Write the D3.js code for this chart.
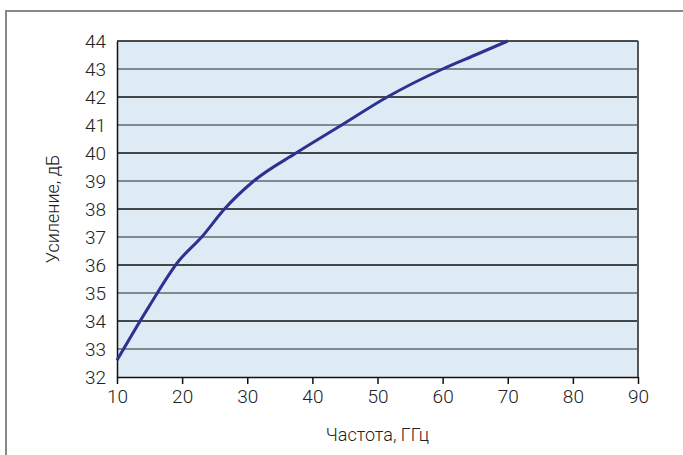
<!DOCTYPE html>
<html>
<head>
<meta charset="utf-8">
<script src="https://cdn.jsdelivr.net/npm/d3@7"></script>
<style>
  body { margin: 0; background: #fff; }
  text { font-family: Roboto, "DejaVu Sans", sans-serif; font-weight: 300; fill: #222; }
</style>
</head>
<body>
<div id="chart"></div>
<script>
// frequency, GHz
var freq = [10, 15, 19.5, 23, 26.5, 31, 37.5, 44.5, 51.5, 60, 65, 70];
// gain, dB
var gain = [32.6, 34.55, 36.15, 37.0, 38.0, 39.0, 40.0, 41.0, 42.0, 43.0, 43.5, 44.0];
var xTicks = [10, 20, 30, 40, 50, 60, 70, 80, 90];
var yTicks = [32, 33, 34, 35, 36, 37, 38, 39, 40, 41, 42, 43, 44];

var W = 683, H = 455;
var margin = {top: 41, right: 45, bottom: 78, left: 117},
    width = W - margin.left - margin.right,
    height = H - margin.top - margin.bottom;

var svg = d3.select("#chart").append("svg")
    .attr("width", W)
    .attr("height", H);

// outer frame (only top and left are visible)
svg.append("rect")
    .attr("x", 6).attr("y", 11)
    .attr("width", W + 10).attr("height", H + 10)
    .style("fill", "none")
    .style("stroke", "#888")
    .style("stroke-width", 2);

var g = svg.append("g")
    .attr("transform", "translate(" + margin.left + "," + margin.top + ")");

var x = d3.scaleLinear().domain([10, 90]).range([0, width]);
var y = d3.scaleLinear().domain([32, 44]).range([height, 0]);

g.append("rect")
    .attr("width", width).attr("height", height)
    .style("fill", "#dfebf4");

// gridlines
g.selectAll(".grid")
  .data(yTicks.slice(1))
  .enter().append("line")
    .attr("class", "grid")
    .attr("x1", 0).attr("x2", width)
    .attr("y1", function(d) { return y(d); })
    .attr("y2", function(d) { return y(d); })
    .style("stroke", function(d, i) { return i % 2 == 0 ? "#5f6a70" : "#111"; })
    .style("stroke-width", 1.5);

// right border
g.append("line")
    .attr("x1", width).attr("x2", width)
    .attr("y1", 0).attr("y2", height)
    .style("stroke", "#555")
    .style("stroke-width", 2);

// x axis
var xAxis = g.append("g")
    .attr("transform", "translate(0," + height + ")")
    .call(d3.axisBottom(x).tickValues(xTicks).tickSize(7).tickSizeOuter(0).tickPadding(6));
xAxis.select(".domain").style("stroke", "#111").style("stroke-width", 1.5);
xAxis.selectAll(".tick line").style("stroke", "#111").style("stroke-width", 1.5);
xAxis.selectAll("text").style("font-size", "19px").style("fill", "#222");

// y axis
var yAxis = g.append("g")
    .call(d3.axisLeft(y).tickValues(yTicks).tickSize(0).tickPadding(11));
yAxis.select(".domain").style("stroke", "#111").style("stroke-width", 1.5);
yAxis.selectAll("text").style("font-size", "19px").style("fill", "#222");

// curve
g.append("path")
    .datum(d3.zip(freq, gain))
    .attr("d", d3.line()
      .x(function(d) { return x(d[0]); })
      .y(function(d) { return y(d[1]); })
      .curve(d3.curveMonotoneX))
    .style("fill", "none")
    .style("stroke", "#2e3192")
    .style("stroke-width", 3);

// axis titles
svg.append("text")
    .attr("x", margin.left + width / 2)
    .attr("y", 441)
    .attr("text-anchor", "middle")
    .style("font-size", "18px")
    .text("Частота, ГГц");

svg.append("text")
    .attr("transform", "translate(59," + (margin.top + height / 2) + ") rotate(-90)")
    .attr("text-anchor", "middle")
    .style("font-size", "18px")
    .text("Усиление, дБ");
</script>
</body>
</html>
